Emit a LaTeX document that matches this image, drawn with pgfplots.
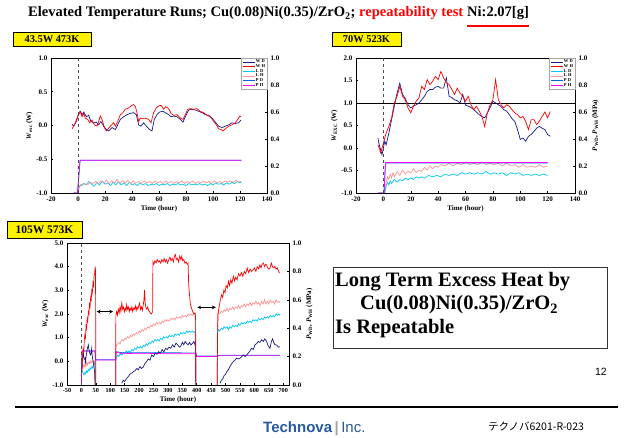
\documentclass[border=0pt]{standalone}
\usepackage{fontspec}
\setmainfont{Liberation Serif}
\newfontfamily\sansf{Liberation Sans}
\newfontfamily\cjk{Noto Sans CJK JP}
\usepackage{pgfplots}
\pgfplotsset{compat=1.18}
\definecolor{cWD}{RGB}{25,25,140}
\definecolor{cWH}{RGB}{255,0,0}
\definecolor{cLD}{RGB}{0,200,240}
\definecolor{cLH}{RGB}{255,150,150}
\definecolor{cPD}{RGB}{0,100,220}
\definecolor{cPH}{RGB}{255,0,255}
\definecolor{tech}{RGB}{40,90,160}
\newcommand\tkf{\fontsize{7}{7.5}\selectfont\bfseries}
\newcommand\lgf{\fontsize{4.5}{5}\selectfont\bfseries}
\pgfplotsset{
  base/.style={scale only axis, tick align=inside, major tick length=2pt,
    axis line style={line width=0.8pt}, every tick/.style={black,line width=0.5pt},
    tick label style={font=\tkf}, label style={font=\tkf},
    /pgf/number format/assume math mode=true},
  onedec/.style={yticklabel style={/pgf/number format/.cd,fixed,fixed zerofill,precision=1}},
  ln/.style={line width=0.7pt},
  lg/.style={legend style={at={(1,1)},anchor=north east,draw=gray!70,line width=0.5pt,
     font=\lgf,fill=white,inner sep=1pt,row sep=-1.2pt,nodes={inner sep=0.7pt}},
     legend cell align=left,
     legend image code/.code={\draw[##1] (0pt,0pt) -- (12pt,0pt);}},
}
\begin{document}
\begin{tikzpicture}[x=1pt,y=1pt]
\path[use as bounding box, fill=white] (0,0) rectangle (636,438);
% ---------- title ----------
\node[anchor=base west, inner sep=0] (t1) at (28,421) {\fontsize{14.5}{16}\selectfont\bfseries Elevated Temperature Runs; Cu(0.08)Ni(0.35)/ZrO\textsubscript{2}; \textcolor{red}{repeatability test}};
\node[anchor=base west, inner sep=0, xshift=3.6pt] (t2) at (t1.base east) {\fontsize{14.5}{16}\selectfont\bfseries Ni:2.07[g]};
\draw[red, line width=1.2pt] ([yshift=-9pt]t2.base west) -- ([yshift=-9pt]t2.base east);

% =============== chart 1 ===============
\begin{axis}[base, at={(51pt,245pt)}, anchor=south west, width=216pt, height=135pt,
  xmin=-20, xmax=140, ymin=0, ymax=1, axis y line*=right, hide x axis, onedec,
  ytick={0,0.2,0.4,0.6,0.8,1}]
\addplot[ln,cLD] coordinates {(0,0) (0.5,0.03) (1,0.05) (2,0.06) (3,0.055) (4,0.07) (6,0.06) (8,0.085) (10,0.065) (12,0.05) (14,0.08) (16,0.06) (18,0.09) (20,0.065) (22,0.075) (24,0.055) (26,0.08) (28,0.06) (30,0.085) (32,0.06) (34,0.075) (36,0.055) (38,0.08) (40,0.06) (42,0.07) (44,0.055) (46,0.075) (48,0.06) (50,0.07) (52,0.055) (54,0.065) (56,0.06) (58,0.07) (60,0.055) (62,0.065) (64,0.06) (66,0.07) (68,0.055) (70,0.065) (72,0.06) (74,0.07) (76,0.06) (78,0.065) (80,0.055) (82,0.07) (84,0.06) (86,0.065) (88,0.06) (90,0.07) (92,0.06) (94,0.065) (96,0.055) (98,0.07) (100,0.06) (102,0.075) (104,0.065) (106,0.07) (108,0.06) (110,0.075) (112,0.065) (114,0.08) (116,0.07) (118,0.085) (120,0.075) (121,0.08)};
\addplot[ln,cLH] coordinates {(0,0) (1,0.04) (2,0.06) (3,0.065) (5,0.07) (7,0.06) (9,0.08) (11,0.07) (13,0.085) (15,0.07) (17,0.09) (19,0.075) (21,0.095) (23,0.07) (25,0.09) (27,0.075) (29,0.1) (31,0.07) (33,0.09) (35,0.075) (37,0.095) (39,0.07) (41,0.09) (43,0.075) (45,0.085) (47,0.07) (49,0.09) (51,0.075) (53,0.085) (55,0.07) (57,0.09) (59,0.075) (61,0.085) (63,0.07) (65,0.09) (67,0.075) (69,0.085) (71,0.07) (73,0.085) (75,0.075) (77,0.09) (79,0.07) (81,0.085) (83,0.075) (85,0.09) (87,0.07) (89,0.085) (91,0.075) (93,0.09) (95,0.075) (97,0.085) (99,0.07) (101,0.09) (103,0.075) (105,0.085) (107,0.075) (109,0.09) (111,0.08) (113,0.09) (115,0.08) (117,0.095) (119,0.08) (121,0.09)};
\addplot[ln,cPD] coordinates {(-3.5,0) (-0.5,0) (0,0.04) (1.5,0.238) (2,0.242) (121,0.242)};
\addplot[ln,cPH] coordinates {(-3.5,0) (-0.5,0) (0,0.05) (1.5,0.242) (2,0.242) (121,0.242)};
\end{axis}
\begin{axis}[base, lg, at={(51pt,245pt)}, anchor=south west, width=216pt, height=135pt,
  xmin=-20, xmax=140, ymin=-1, ymax=1, ytick pos=left, xtick pos=bottom, onedec,
  xtick={-20,0,20,40,60,80,100,120,140}, ytick={-1,-0.5,0,0.5,1},
  xlabel={Time (hour)}, ylabel={\textit{W}\textsubscript{exc} (W)},
  xlabel style={yshift=2pt}, ylabel style={yshift=-3pt}]
\addplot[ln,cWD] coordinates {(-4.4,0.02) (-3.2,-0.01) (-1.2,0.06) (0.5,0.19) (1.7,0.21) (3,0.16) (4.2,0.2) (6.2,0.13) (7.9,0.15) (9.6,0.06) (11.6,0.04) (13.6,0.05) (15.3,0.01) (17,0.06) (19,-0.01) (21,-0.06) (22.7,-0.08) (25.2,-0.03) (27.7,-0.06) (29.4,0.01) (31.4,0.09) (33.8,0.13) (36.3,0.16) (38.8,0.18) (41.2,0.19) (43.2,0.16) (44.9,0.01) (46.7,-0.01) (48.6,0.04) (50.6,-0.01) (53.1,-0.06) (54.8,-0.08) (56.5,0.09) (58.5,0.16) (60.5,0.2) (63,0.21) (64.7,0.19) (67.2,0.16) (68.9,0.13) (70.9,0.14) (73.3,0.13) (75.8,0.09) (77.8,0.05) (79.5,0.13) (82,0.23) (84.4,0.24) (86.9,0.23) (89.4,0.21) (91.9,0.19) (94.3,0.16) (96.8,0.15) (99.3,0.11) (101.7,0.05) (104.2,-0.01) (106.7,-0.03) (109.1,-0.01) (111.6,0.01) (114.1,0.04) (116.5,0.03) (119,0.04) (120.7,0.08)};
\addlegendentry{W D}
\addplot[ln,cWH] coordinates {(-4.4,-0.05) (-3.2,-0.01) (-2,0.04) (-0.7,0.11) (0.5,0.16) (1.7,0.2) (3,0.13) (4.2,0.18) (5.4,0.11) (7.2,0.09) (8.6,0.04) (10.4,0.08) (12.1,0.01) (14.1,-0.01) (15.3,0.06) (16.5,0.14) (17.8,0.09) (19.5,-0.03) (21,-0.08) (22,-0.06) (24,-0.01) (26.4,0.04) (27.7,-0.01) (29.4,0.06) (31.4,0.16) (33.3,0.19) (35,0.24) (37.5,0.26) (40,0.3) (41.2,0.31) (42.5,0.28) (43.7,0.19) (44.9,0.06) (46.2,0.11) (48.1,0.1) (49.9,0.11) (52.3,0.09) (54.1,0.04) (56,0.19) (58,0.26) (59.8,0.29) (61.5,0.3) (63.5,0.24) (64.9,0.28) (67.2,0.25) (68.9,0.18) (70.9,0.15) (73.3,0.16) (75.8,0.11) (77.8,0.09) (79.5,0.16) (81.2,0.24) (83.2,0.25) (85.7,0.24) (88.1,0.25) (90.6,0.21) (93.1,0.19) (95.6,0.15) (98,0.13) (100.5,0.06) (102.5,0.01) (104.2,-0.05) (106,-0.06) (107.4,-0.08) (109.1,-0.05) (111.6,-0.01) (114.1,0.01) (116.5,0.04) (118.3,0.09) (119.8,0.14) (120.7,0.13)};
\addlegendentry{W H}
\addlegendimage{ln,cLD}\addlegendentry{L D}
\addlegendimage{ln,cLH}\addlegendentry{L H}
\addlegendimage{ln,cPD}\addlegendentry{P D}
\addlegendimage{ln,cPH}\addlegendentry{P H}
\draw[gray!60!black, dashed, line width=0.6pt] (axis cs:0,-1) -- (axis cs:0,1);
\end{axis}
\draw[fill=yellow, line width=0.5pt] (13,392) rectangle (91,406);
\node at (52,399) {\fontsize{10.4}{11}\selectfont\bfseries 43.5W 473K};

% =============== chart 2 ===============
\begin{axis}[base, at={(356pt,245pt)}, anchor=south west, width=219pt, height=135pt,
  xmin=-20, xmax=140, ymin=0, ymax=1, axis y line*=right, hide x axis, onedec,
  ytick={0,0.2,0.4,0.6,0.8,1},
  ylabel={\textit{P}\textsubscript{WD}, \textit{P}\textsubscript{WH} (MPa)}, ylabel style={yshift=2pt}]
\addplot[ln,cLH] coordinates {(1,0) (2,0.08) (3,0.12) (4,0.1) (5,0.14) (6,0.11) (7,0.15) (8,0.12) (10,0.16) (12,0.13) (14,0.17) (16,0.14) (18,0.16) (20,0.15) (22,0.18) (24,0.15) (26,0.17) (28,0.16) (30,0.19) (32,0.17) (34,0.2) (36,0.18) (38,0.2) (40,0.19) (42,0.21) (45,0.2) (48,0.22) (51,0.2) (54,0.22) (57,0.21) (60,0.23) (63,0.21) (66,0.22) (69,0.21) (72,0.23) (75,0.21) (78,0.22) (81,0.21) (84,0.22) (87,0.2) (90,0.22) (93,0.2) (96,0.21) (99,0.19) (102,0.21) (105,0.19) (108,0.2) (111,0.19) (114,0.21) (117,0.19) (120,0.2)};
\addplot[ln,cLD] coordinates {(1,0) (2,0.05) (3,0.08) (4,0.06) (5,0.09) (6,0.07) (8,0.1) (10,0.08) (12,0.1) (14,0.09) (16,0.11) (18,0.1) (20,0.11) (22,0.1) (24,0.12) (26,0.11) (28,0.12) (30,0.11) (33,0.13) (36,0.12) (39,0.13) (42,0.12) (45,0.14) (48,0.13) (51,0.14) (54,0.13) (57,0.15) (60,0.14) (63,0.15) (66,0.14) (69,0.15) (72,0.14) (75,0.16) (78,0.14) (81,0.15) (84,0.14) (87,0.15) (90,0.13) (93,0.15) (96,0.14) (99,0.15) (102,0.13) (105,0.14) (108,0.13) (111,0.14) (114,0.13) (117,0.14) (120,0.13)};
\addplot[ln,cPD] coordinates {(-4,0) (0.5,0) (1.5,0.218) (2,0.222) (120,0.222)};
\addplot[ln,cPH] coordinates {(-4,0) (0.5,0) (1.5,0.224) (2,0.226) (120,0.226)};
\end{axis}
\begin{axis}[base, lg, at={(356pt,245pt)}, anchor=south west, width=219pt, height=135pt,
  xmin=-20, xmax=140, ymin=-1, ymax=2, ytick pos=left, xtick pos=bottom, onedec,
  xtick={-20,0,20,40,60,80,100,120,140}, ytick={-1,-0.5,0,0.5,1,1.5,2},
  xlabel={Time (hour)}, ylabel={\textit{W}\textsubscript{EXC} (W)},
  xlabel style={yshift=2pt}, ylabel style={yshift=-3pt}]
\addplot[black, line width=0.6pt, forget plot] coordinates {(-20,1) (140,1)};
\addplot[ln,cWD] coordinates {(-4,0.22) (-3,0.07) (-1,-0.15) (1,0.15) (2,0.07) (4,0.33) (6,0.63) (8,0.93) (10,1.22) (12,1.44) (14,1.19) (16,1.1) (18,0.96) (20,0.89) (22,0.93) (24,0.96) (26,1.0) (28,1.07) (30,1.15) (32,1.26) (34,1.3) (36,1.3) (38,1.35) (40,1.37) (42,1.33) (44,1.33) (46,1.56) (48,1.15) (50,1.12) (52,1.07) (54,1.05) (56,1.0) (58,1.19) (60,0.95) (62,0.93) (64,0.9) (66,0.85) (68,0.8) (70,0.74) (72,0.7) (74,0.67) (76,0.78) (78,0.9) (80,1.04) (82,1.0) (84,0.96) (86,0.92) (88,0.85) (90,0.82) (92,0.74) (94,0.65) (96,0.59) (98,0.41) (100,0.19) (102,0.22) (104,0.15) (106,0.26) (108,0.3) (110,0.37) (112,0.44) (114,0.48) (116,0.44) (118,0.41) (120,0.3) (122,0.26)};
\addlegendentry{W D}
\addplot[ln,cWH] coordinates {(-4,0.07) (-3,0.0) (-2,-0.11) (0,0.11) (2,0.33) (4,0.48) (6,0.67) (8,1.0) (10,1.15) (12,1.37) (14,1.15) (16,1.07) (18,0.89) (20,0.78) (22,0.93) (24,1.04) (26,1.11) (28,1.37) (30,1.3) (32,1.52) (34,1.41) (36,1.48) (38,1.59) (40,1.52) (42,1.7) (44,1.56) (46,1.45) (48,1.41) (50,1.3) (52,1.19) (54,1.33) (56,1.22) (58,1.15) (60,1.04) (62,1.15) (64,0.96) (66,0.85) (68,0.93) (70,0.82) (72,0.7) (74,0.48) (76,0.78) (78,0.96) (80,1.07) (82,1.52) (84,1.07) (86,0.96) (88,0.89) (90,0.96) (92,0.93) (94,0.85) (96,0.78) (98,0.74) (100,0.67) (102,0.7) (104,0.59) (106,0.41) (108,0.63) (110,0.63) (112,0.52) (114,0.6) (116,0.7) (118,0.8) (120,0.67) (122,0.81)};
\addlegendentry{W H}
\addlegendimage{ln,cLD}\addlegendentry{L D}
\addlegendimage{ln,cLH}\addlegendentry{L H}
\addlegendimage{ln,cPD}\addlegendentry{P D}
\addlegendimage{ln,cPH}\addlegendentry{P H}
\draw[gray!60!black, dashed, line width=0.6pt] (axis cs:0,-1) -- (axis cs:0,2);
\end{axis}
\draw[fill=yellow, line width=0.5pt] (332,392) rectangle (401,406);
\node at (366.5,399) {\fontsize{10.4}{11}\selectfont\bfseries 70W 523K};

% =============== chart 3 ===============
\begin{axis}[base, at={(67pt,53pt)}, anchor=south west, width=222pt, height=142pt,
  xmin=-50, xmax=720, ymin=0, ymax=1, axis y line*=right, hide x axis, onedec,
  ytick={0,0.2,0.4,0.6,0.8,1},
  ylabel={\textit{P}\textsubscript{WD}, \textit{P}\textsubscript{WH} (MPa)}, ylabel style={yshift=2pt}]
\addplot[ln,cLH] coordinates {(0,0) (0.5,0.13) (3,0.12) (6,0.14) (9,0.12) (12,0.15) (15,0.13) (18,0.16) (21,0.14) (24,0.16) (27,0.15) (30,0.17) (33,0.15) (36,0.17) (39,0.16) (42,0.17) (45,0.16) (47,0.17) (49,0)};
\addplot[ln,cLH] coordinates {(119,0) (119.5,0.26) (122,0.28) (126,0.29) (130,0.3) (134,0.29) (138,0.31) (142,0.32) (146,0.31) (150,0.33) (155,0.32) (160,0.34) (165,0.33) (170,0.35) (175,0.34) (180,0.36) (185,0.35) (190,0.37) (195,0.36) (200,0.38) (205,0.37) (210,0.39) (215,0.38) (220,0.4) (225,0.39) (230,0.41) (235,0.4) (240,0.42) (245,0.41) (250,0.43) (255,0.42) (260,0.44) (265,0.43) (270,0.44) (275,0.43) (280,0.45) (285,0.44) (290,0.46) (295,0.45) (300,0.46) (305,0.45) (310,0.47) (315,0.46) (320,0.47) (325,0.46) (330,0.48) (335,0.47) (340,0.48) (345,0.47) (350,0.49) (355,0.48) (360,0.49) (365,0.48) (370,0.5) (375,0.49) (380,0.5) (385,0.49) (390,0.5) (395,0.5) (397,0)};
\addplot[ln,cLH] coordinates {(471,0) (472,0.5) (476,0.51) (480,0.5) (485,0.52) (490,0.51) (495,0.53) (500,0.52) (505,0.54) (510,0.52) (515,0.54) (520,0.53) (525,0.55) (530,0.53) (535,0.55) (540,0.54) (545,0.56) (550,0.54) (555,0.56) (560,0.55) (565,0.57) (570,0.55) (575,0.57) (580,0.56) (585,0.58) (590,0.56) (595,0.58) (600,0.57) (605,0.59) (610,0.57) (615,0.58) (620,0.56) (625,0.59) (630,0.57) (635,0.6) (640,0.57) (645,0.59) (650,0.57) (655,0.6) (660,0.58) (665,0.59) (670,0.57) (675,0.6) (680,0.58) (685,0.59) (688,0.58)};
\addplot[ln,cLD] coordinates {(0,0) (0.5,0.09) (3,0.1) (6,0.08) (9,0.07) (12,0.09) (15,0.08) (18,0.1) (21,0.09) (24,0.11) (27,0.1) (30,0.12) (33,0.11) (36,0.13) (39,0.12) (42,0.14) (45,0.15) (47,0.16) (49,0)};
\addplot[ln,cLD] coordinates {(119,0) (119.5,0.18) (122,0.2) (126,0.21) (130,0.2) (135,0.22) (140,0.21) (145,0.23) (150,0.22) (155,0.24) (160,0.23) (165,0.24) (170,0.23) (175,0.25) (180,0.24) (185,0.26) (190,0.25) (195,0.27) (200,0.26) (205,0.27) (210,0.26) (215,0.28) (220,0.27) (225,0.29) (230,0.28) (235,0.3) (240,0.29) (245,0.31) (250,0.3) (255,0.32) (260,0.31) (265,0.32) (270,0.31) (275,0.33) (280,0.32) (285,0.34) (290,0.33) (295,0.34) (300,0.33) (305,0.35) (310,0.34) (315,0.35) (320,0.34) (325,0.36) (330,0.35) (335,0.36) (340,0.35) (345,0.37) (350,0.36) (355,0.37) (360,0.36) (365,0.38) (370,0.37) (375,0.38) (380,0.37) (385,0.38) (390,0.37) (395,0.38) (397,0)};
\addplot[ln,cLD] coordinates {(471,0) (472,0.37) (476,0.39) (480,0.38) (485,0.4) (490,0.39) (495,0.41) (500,0.4) (505,0.41) (510,0.39) (515,0.41) (520,0.4) (525,0.42) (530,0.41) (535,0.42) (540,0.41) (545,0.43) (550,0.42) (555,0.44) (560,0.43) (565,0.44) (570,0.43) (575,0.45) (580,0.44) (585,0.45) (590,0.44) (595,0.46) (600,0.45) (605,0.46) (610,0.45) (615,0.47) (620,0.46) (625,0.47) (630,0.46) (635,0.48) (640,0.47) (645,0.48) (650,0.47) (655,0.49) (660,0.48) (665,0.49) (670,0.48) (675,0.5) (680,0.49) (685,0.5) (688,0.49)};
\addplot[ln,cPD] coordinates {(0,0) (2,0.24) (47,0.24) (49,0.178) (119,0.178) (120,0.235) (140,0.228) (397,0.226) (399,0.205) (471,0.205) (473,0.21) (688,0.21)};
\addplot[ln,cPH] coordinates {(0,0) (2,0.24) (47,0.24) (49,0.176) (119,0.176) (120,0.231) (140,0.22) (200,0.224) (300,0.22) (397,0.22) (399,0.2) (471,0.2) (473,0.207) (688,0.207)};
\end{axis}
\begin{axis}[base, at={(67pt,53pt)}, anchor=south west, width=222pt, height=142pt,
  xmin=-50, xmax=720, ymin=-1, ymax=5, ytick pos=left, xtick pos=bottom, onedec,
  xtick={-50,0,50,100,150,200,250,300,350,400,450,500,550,600,650,700}, ytick={-1,0,1,2,3,4,5},
  xticklabel style={font=\fontsize{6.2}{6.5}\selectfont\bfseries},
  xlabel={Time (hour)}, ylabel={\textit{W}\textsubscript{exc} (W)},
  xlabel style={yshift=3pt}, ylabel style={yshift=-3pt}]
\addplot[ln,cWD] coordinates {(0,-0.44) (2,-0.3) (4,0.1) (6.6,0.41) (8,0.2) (10,0.1) (12.4,0.13) (14,-0.1) (16,0.2) (18,0.35) (20,0.5) (22,0.6) (24,0.69) (26,0.5) (28,0.4) (30,0.3) (32,0.27) (34,0.4) (35.7,0.55) (37,0.3) (39,0.1) (41,-0.01) (43,-0.2) (44.7,-0.36) (46,-0.5) (47,-1)};
\addplot[ln,cWD] coordinates {(140,-0.93) (145,-0.8) (150,-0.85) (157,-0.72) (162,-0.65) (168,-0.55) (174,-0.5) (180,-0.44) (186,-0.4) (192,-0.3) (197,-0.36) (203,-0.22) (208,-0.3) (214,-0.25) (220,-0.1) (226,-0.01) (232,0.1) (238,0.05) (244,0.27) (250,0.2) (256,0.35) (262,0.3) (268,0.41) (274,0.35) (280,0.5) (286,0.4) (292,0.55) (298,0.5) (304,0.6) (310,0.55) (316,0.7) (322,0.6) (328,0.77) (334,0.7) (340,0.6) (345,0.65) (350,0.8) (355,0.7) (360,0.84) (365,0.75) (370,0.7) (375,0.8) (380,0.69) (385,0.75) (390,0.84) (394,0.7) (396,0.8) (397,-1)};
\addplot[ln,cWD] coordinates {(481,-0.93) (485,-0.8) (490,-0.75) (495,-0.6) (500,-0.55) (504,-0.44) (510,-0.35) (516,-0.2) (521,-0.1) (527,-0.01) (533,0.05) (538,0.13) (544,0.1) (550,0.13) (556,0.2) (562,0.27) (568,0.2) (573,0.27) (579,0.35) (585,0.45) (590,0.55) (596,0.5) (602,0.7) (608,0.75) (613,0.84) (619,0.8) (625,0.91) (631,0.84) (636,0.95) (642,0.85) (648,0.65) (654,0.55) (659,0.84) (663,0.95) (667,0.8) (671,0.7) (677,0.69) (683,0.6) (688,0.62)};
\addplot[ln,cWH] coordinates {(0,-0.44) (2,-0.2) (4,0.1) (6,0.5) (8,0.4) (10,0.9) (12,1.1) (14,1.0) (16,1.5) (18,1.4) (20,1.8) (22,1.7) (24,2.1) (26,2.0) (28,2.4) (30,2.3) (32,2.7) (34,2.6) (36,3.0) (38,2.9) (40,3.3) (42,3.2) (44,3.6) (46,3.7) (47,3.9) (48,4.0) (49,3.8) (50,-1)};
\addplot[ln,cWH] coordinates {(119,-1) (119.5,1.97) (122,2.1) (125,1.95) (128,2.2) (131,2.05) (134,2.3) (137,2.1) (140,2.46) (143,2.2) (146,2.3) (149,2.1) (152,2.25) (155,2.15) (157,2.39) (160,2.2) (163,2.3) (166,2.1) (169,2.25) (172,2.15) (175,2.3) (178,2.1) (181,2.25) (184,2.2) (187,2.35) (190,2.15) (193,2.3) (196,2.2) (199,2.35) (202,2.46) (205,2.2) (208,2.3) (211,2.15) (214,2.35) (217,2.6) (219,3.02) (221,2.5) (224,2.25) (227,2.2) (230,2.3) (233,2.15) (236,2.1) (239,2.05) (242,2.0) (245,2.05) (247,2.1) (248,4.2) (251,4.1) (255,4.25) (259,4.15) (263,4.3) (267,4.2) (271,4.25) (275,4.15) (279,4.3) (283,4.2) (287,4.35) (291,4.2) (295,4.3) (299,4.15) (303,4.3) (307,4.4) (311,4.25) (315,4.35) (319,4.2) (323,4.45) (326,4.51) (329,4.3) (333,4.35) (337,4.2) (341,4.45) (345,4.3) (348,4.44) (351,4.25) (355,4.3) (359,4.15) (363,4.2) (367,4.1) (370,4.15) (372,3.24) (375,2.8) (378,2.4) (382,2.25) (386,2.1) (390,2.0) (394,2.04) (396,1.9) (397,-1)};
\addplot[ln,cWH] coordinates {(471,-1) (472,1.0) (474,2.0) (476,2.18) (479,2.4) (482,2.6) (486,2.81) (490,2.7) (494,3.0) (498,2.9) (502,3.2) (506,3.1) (510,3.38) (514,3.2) (518,3.45) (522,3.3) (527,3.59) (531,3.4) (535,3.55) (540,3.45) (545,3.7) (550,3.6) (555,3.75) (560,3.6) (565,3.8) (570,3.7) (575,3.94) (580,3.75) (585,3.9) (590,3.8) (596,3.87) (600,3.95) (605,3.8) (610,4.0) (615,3.9) (619,4.08) (623,3.95) (627,4.1) (631,4.15) (635,4.0) (639,4.1) (642,4.08) (646,3.95) (650,3.9) (654,3.94) (659,4.15) (663,4.0) (667,3.95) (671,4.01) (675,3.9) (679,3.95) (683,3.85) (686,3.75) (688,3.73)};
\draw[gray!60!black, dashed, line width=0.6pt] (axis cs:0,-1) -- (axis cs:0,5);
\draw[<->, >=stealth, line width=0.7pt] (axis cs:53,2.1) -- (axis cs:110,2.1);
\draw[<->, >=stealth, line width=0.7pt] (axis cs:402,2.28) -- (axis cs:466,2.28);
\end{axis}
\draw[fill=yellow, line width=0.5pt] (7,200) rectangle (82,217);
\node at (44.5,208.5) {\fontsize{11.5}{12}\selectfont\bfseries 105W 573K};

% ---------- text box ----------
\draw[line width=0.6pt, gray!40!black] (333,90) rectangle (607,171);
\node[anchor=west, inner sep=0] at (335,156) {\fontsize{20.5}{22}\selectfont\bfseries Long Term Excess Heat by};
\node[anchor=west, inner sep=0] at (360,133) {\fontsize{20.5}{22}\selectfont\bfseries Cu(0.08)Ni(0.35)/ZrO\textsubscript{2}};
\node[anchor=west, inner sep=0] at (335,109) {\fontsize{20.5}{22}\selectfont\bfseries Is Repeatable};
\node[anchor=east, inner sep=0] at (607,66) {\sansf\fontsize{10.5}{12}\selectfont 12};
% ---------- footer ----------
\draw[line width=2.5pt] (15,31) -- (618,31);
\node[anchor=west, inner sep=0] at (263,9) {\sansf\fontsize{15}{16}\selectfont\bfseries\textcolor{tech}{Technova}\,\textcolor{gray!70}{|}\,\mdseries\textcolor{tech}{Inc.}};
\node[anchor=west, inner sep=0] at (488,12) {\cjk\fontsize{10.5}{12}\selectfont テクノバ6201-R-023};
\end{tikzpicture}
\end{document}
